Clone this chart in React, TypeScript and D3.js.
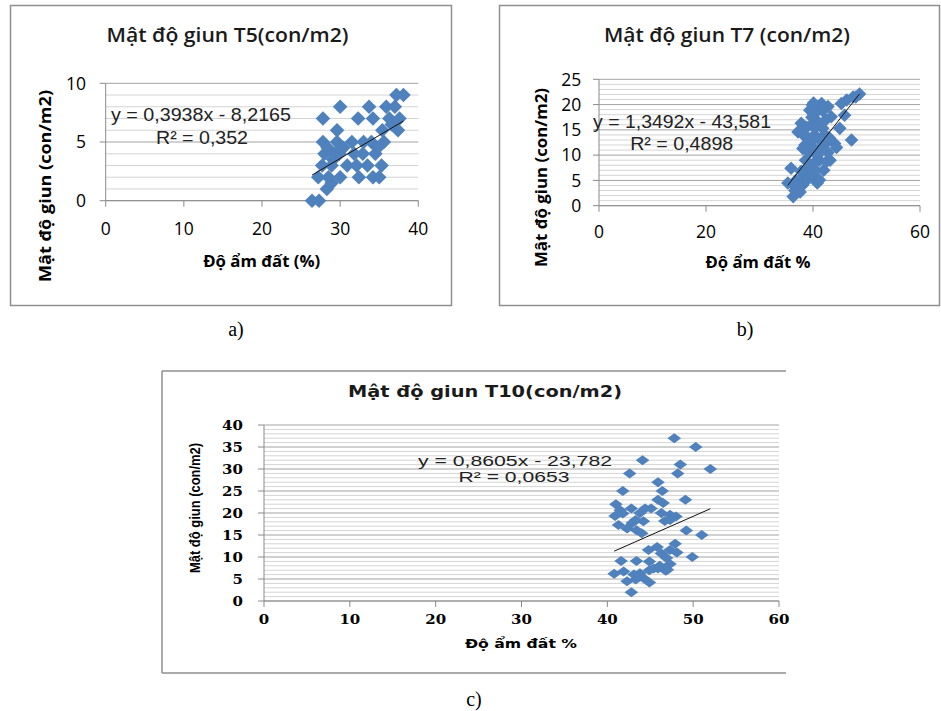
import React from 'react';
import * as d3 from 'd3';

// ---------- DATA ----------
// Panel a: T5
const t5Moisture = [26.4, 27.3, 28.3, 27.2, 28.5, 30.0, 32.4, 34.2, 35.0, 27.7, 28.9, 30.9, 32.1, 33.5, 35.3, 28.0, 29.3, 29.9, 32.9, 34.5, 27.8, 29.6, 31.5, 33.0, 34.0, 35.6, 29.6, 35.4, 37.4, 27.8, 32.3, 34.2, 36.3, 37.6, 30.0, 33.7, 35.9, 37.0, 37.2, 38.1, 28.9, 29.1, 28.4, 30.4, 31.8, 34.8, 36.6];
const t5Density = [0, 0, 1, 2, 2, 2, 2, 2, 2, 3, 3, 3, 3, 3, 3, 4, 4, 4, 4, 4, 5, 5, 5, 5, 5, 5, 6, 6, 6, 7, 7, 7, 7, 7, 8, 8, 8, 8, 9, 9, 1.5, 3.5, 4.5, 4.5, 4, 4.5, 6.5];
const t5Fit = { slope: 0.3938, intercept: -8.2165 };
const t5Eq = ['y = 0,3938x - 8,2165', 'R² = 0,352'];
const t5XTicks = [0, 10, 20, 30, 40];
const t5YTicks = [0, 5, 10];

// Panel b: T7
const t7Moisture = [35.3, 35.9, 36.3, 36.6, 36.8, 37.3, 37.6, 38.0, 38.3, 37.2, 37.8, 38.1, 38.4, 38.6, 38.8, 39.1, 39.3, 39.4, 39.6, 39.7, 39.9, 40.0, 40.2, 40.3, 40.5, 40.7, 40.8, 41.0, 41.2, 41.2, 41.3, 41.6, 41.8, 42.0, 42.4, 42.5, 42.4, 42.8, 43.2, 43.4, 44.05, 44.4, 45.0, 45.3, 45.9, 46.3, 47.2, 47.5, 48.0, 48.7, 38.5, 39.0, 39.8, 40.5, 41.5, 40.8, 39.5, 40.5, 41.8, 42.2, 43.0, 38.8, 37.8, 36.5, 40.1, 42.8];
const t7Density = [4.5, 7.4, 1.8, 3, 5, 3.6, 2.7, 4, 6, 14.6, 16.3, 11.3, 13.8, 9, 15.5, 7.5, 10.5, 18.9, 12.5, 16, 19.9, 6, 8.5, 14, 11, 18.6, 4.5, 16.5, 5.1, 9, 13, 20.2, 15.3, 7, 12.3, 8.7, 17, 19.6, 9, 17.6, 12.3, 11.5, 15.3, 20.2, 17.9, 20.9, 13, 21.5, 21.5, 22.1, 12, 13.5, 17.5, 15.5, 11.5, 10, 8, 7, 18.8, 14, 13.5, 5, 6.8, 4, 20.3, 10.5];
const t7Fit = { slope: 1.3492, intercept: -43.581 };
const t7Eq = ['y = 1,3492x - 43,581', 'R² = 0,4898'];
const t7XTicks = [0, 20, 40, 60];
const t7YTicks = [0, 5, 10, 15, 20, 25];

// Panel c: T10
const t10Moisture = [47.8, 50.3, 44.1, 48.5, 52.0, 42.6, 48.2, 45.9, 41.8, 46.4, 49.1, 45.9, 46.5, 41.0, 45.1, 41.5, 42.8, 43.8, 44.4, 46.3, 47.3, 48.0, 46.7, 47.3, 40.9, 41.8, 41.3, 42.9, 42.3, 43.4, 44.0, 44.2, 43.3, 49.2, 51.0, 47.9, 44.8, 45.8, 46.3, 47.3, 48.1, 46.9, 49.9, 41.6, 43.4, 44.9, 46.1, 47.3, 40.8, 41.9, 43.1, 43.8, 44.9, 45.9, 46.8, 45.4, 47.0, 42.3, 43.3, 44.2, 44.9, 43.8, 42.8];
const t10Density = [37, 35, 32, 31, 30, 29, 29, 27, 25, 25, 23, 23, 22.3, 22, 21, 20.6, 21, 20, 21, 20, 19.6, 19.2, 18.2, 18.4, 19.3, 19.9, 17.3, 17.7, 16.5, 16.1, 15.4, 18.1, 18.4, 16, 15, 13, 11.6, 12.3, 10.8, 11.6, 11, 9.8, 10, 9.1, 9.1, 9, 8, 8.4, 6.2, 6.7, 6, 6.3, 7, 7.4, 6.9, 7.4, 7.1, 4.5, 4.9, 5.2, 4.2, 5.5, 2];
const t10Fit = { slope: 0.8605, intercept: -23.782 };
const t10Eq = ['y = 0,8605x - 23,782', 'R² = 0,0653'];
const t10XTicks = [0, 10, 20, 30, 40, 50, 60];
const t10YTicks = [0, 5, 10, 15, 20, 25, 30, 35, 40];

const titles = ['Mật độ giun T5(con/m2)', 'Mật độ giun T7 (con/m2)', 'Mật độ giun T10(con/m2)'];
const yTitles = ['Mật độ giun (con/m2)', 'Mật độ giun (con/m2)', 'Mật độ giun (con/m2)'];
const xTitles = ['Độ ẩm đất (%)', 'Độ ẩm đất %', 'Độ ẩm đất %'];
const captions = ['a)', 'b)', 'c)'];

// ---------- STYLE ----------
const BLUE = '#4F81BD';
const FRAME = '#8f8f8f';
const MAJOR = '#a3a3a3';
const MINOR = '#d4d4d4';
const AXIS = '#8a8a8a';

type TxtProps = {
  x: number; y: number; text: string; size: number; family: string;
  weight?: string | number; anchor?: string; sx?: number; rot?: number;
  len?: number; fill?: string;
};

function Txt({ x, y, text, size, family, weight = 400, anchor = 'middle', sx = 1, rot = 0, len, fill = '#000' }: TxtProps) {
  const tr = rot !== 0
    ? `translate(${x},${y}) rotate(${rot}) scale(1,${sx})`
    : `translate(${x},${y}) scale(${sx},1)`;
  const extra: any = {};
  if (len) { extra.textLength = len; extra.lengthAdjust = 'spacingAndGlyphs'; }
  return (
    <text transform={tr} fontSize={size} fontFamily={family} fontWeight={weight} textAnchor={anchor} fill={fill} {...extra}>
      {text}
    </text>
  );
}

type PanelProps = {
  xs: number[]; ys: number[];
  xDomain: [number, number]; yDomain: [number, number];
  xRange: [number, number]; yRange: [number, number];
  xTicks: number[]; yTicks: number[];
  fit: { slope: number; intercept: number };
  dw: number; dh: number;
  clipRight?: number;
};

function Plot({ xs, ys, xDomain, yDomain, xRange, yRange, xTicks, yTicks, fit, dw, dh, clipRight }: PanelProps) {
  const x = d3.scaleLinear().domain(xDomain).range(xRange);
  const y = d3.scaleLinear().domain(yDomain).range(yRange);
  const minor = d3.range(yDomain[0], yDomain[1] + 0.001, 1);
  const xMin = d3.min(xs) as number;
  const xMax = d3.max(xs) as number;
  const line = d3.line<number>().x(d => x(d)).y(d => y(fit.slope * d + fit.intercept));
  const diamond = `M0,${-dh}L${dw},0L0,${dh}L${-dw},0Z`;
  const id = `clip${Math.round(xRange[0])}`;
  const right = clipRight ?? 2000;
  return (
    <g>
      <defs>
        <clipPath id={id}><rect x={0} y={0} width={right} height={2000} /></clipPath>
      </defs>
      <g clipPath={`url(#${id})`}>
        {minor.map(v => (
          <line key={'m' + v} x1={xRange[0]} x2={xRange[1]} y1={y(v)} y2={y(v)}
            stroke={v % 5 === 0 ? MAJOR : MINOR} strokeWidth={1} />
        ))}
        <line x1={xRange[0]} x2={xRange[0]} y1={yRange[0]} y2={yRange[1]} stroke={AXIS} />
        <line x1={xRange[0]} x2={xRange[1]} y1={yRange[0]} y2={yRange[0]} stroke={AXIS} />
        {yTicks.map(v => (
          <line key={'yt' + v} x1={xRange[0] - 6} x2={xRange[0]} y1={y(v)} y2={y(v)} stroke={AXIS} />
        ))}
        {xTicks.map(v => (
          <line key={'xt' + v} x1={x(v)} x2={x(v)} y1={yRange[0]} y2={yRange[0] + 6} stroke={AXIS} />
        ))}
        {xs.map((d, i) => (
          <path key={'p' + i} d={diamond} transform={`translate(${x(d)},${y(ys[i])})`} fill={BLUE} />
        ))}
        <path d={line([xMin, xMax]) as string} stroke="#111" strokeWidth={1} fill="none" />
      </g>
    </g>
  );
}

export default function App() {
  const ax = d3.scaleLinear().domain([0, 40]).range([105.7, 418.3]);
  const ay = d3.scaleLinear().domain([0, 10]).range([200.7, 83.3]);
  const bx = d3.scaleLinear().domain([0, 60]).range([599, 920]);
  const by = d3.scaleLinear().domain([0, 25]).range([205.7, 79.3]);
  const cx = d3.scaleLinear().domain([0, 60]).range([264, 779]);
  const cy = d3.scaleLinear().domain([0, 40]).range([601, 425]);

  const sans = "'Open Sans', 'DejaVu Sans', sans-serif";
  const arial = "'Liberation Sans', Arial, sans-serif";
  const verd = "'DejaVu Sans', sans-serif";
  const serifB = "'DejaVu Serif', serif";
  const doc = "'Liberation Serif', 'DejaVu Serif', serif";
  const cRight = 786;

  return (
    <svg width={941} height={711} style={{ position: 'absolute', left: 0, top: 0, background: '#fff' }}>
      <rect x={0} y={0} width={941} height={711} fill="#fff" />

      {/* ---------- Panel a ---------- */}
      <rect x={10.5} y={5.5} width={441} height={300} fill="none" stroke={FRAME} strokeWidth={1.5} />
      <Plot xs={t5Moisture} ys={t5Density} xDomain={[0, 40]} yDomain={[0, 10]}
        xRange={[105.7, 418.3]} yRange={[200.7, 83.3]} xTicks={t5XTicks} yTicks={t5YTicks}
        fit={t5Fit} dw={7.3} dh={7.3} />
      <Txt x={227.5} y={42} text={titles[0]} size={19} family={sans} weight={600} len={242} fill="#1a1a1a" />
      <Txt x={51} y={186} rot={-90} text={yTitles[0]} size={16} family={sans} weight={700} len={192} />
      <Txt x={261.7} y={266.5} text={xTitles[0]} size={16} family={sans} weight={700} len={117} />
      {t5YTicks.map(v => <Txt key={'ay' + v} x={86} y={ay(v) + 6.3} text={String(v)} size={17.5} family={sans} anchor="end" />)}
      {t5XTicks.map(v => <Txt key={'ax' + v} x={ax(v)} y={234.5} text={String(v)} size={17.5} family={sans} />)}
      <Txt x={201} y={120.7} text={t5Eq[0]} size={19} family={arial} len={180} fill="#222" />
      <Txt x={202} y={144.3} text={t5Eq[1]} size={19} family={arial} len={92} fill="#222" />
      <Txt x={236} y={336} text={captions[0]} size={20} family={doc} />

      {/* ---------- Panel b ---------- */}
      <rect x={499.5} y={5.5} width={440} height={300} fill="none" stroke={FRAME} strokeWidth={1.5} />
      <Plot xs={t7Moisture} ys={t7Density} xDomain={[0, 60]} yDomain={[0, 25]}
        xRange={[599, 920]} yRange={[205.7, 79.3]} xTicks={t7XTicks} yTicks={t7YTicks}
        fit={t7Fit} dw={6.8} dh={6.8} />
      <Txt x={727} y={41.7} text={titles[1]} size={19} family={sans} weight={600} len={246} fill="#1a1a1a" />
      <Txt x={547} y={177.5} rot={-90} text={yTitles[1]} size={15.5} family={sans} weight={700} len={179} />
      <Txt x={758} y={268} text={xTitles[1]} size={16} family={sans} weight={700} len={105} />
      {t7YTicks.map(v => <Txt key={'by' + v} x={581.3} y={by(v) + 6.3} text={String(v)} size={17.5} family={sans} anchor="end" />)}
      {t7XTicks.map(v => <Txt key={'bx' + v} x={bx(v)} y={238} text={String(v)} size={17.5} family={sans} />)}
      <Txt x={682} y={128.3} text={t7Eq[0]} size={19} family={arial} len={178} fill="#222" />
      <Txt x={681.7} y={150} text={t7Eq[1]} size={19} family={arial} len={103} fill="#222" />
      <Txt x={745} y={336} text={captions[1]} size={20} family={doc} />

      {/* ---------- Panel c ---------- */}
      <line x1={162} x2={cRight} y1={371} y2={371} stroke={FRAME} strokeWidth={1.5} />
      <line x1={162} x2={cRight} y1={673} y2={673} stroke={FRAME} strokeWidth={1.5} />
      <line x1={162} x2={162} y1={371} y2={673} stroke={FRAME} strokeWidth={1.5} />
      <Plot xs={t10Moisture} ys={t10Density} xDomain={[0, 60]} yDomain={[0, 40]}
        xRange={[264, 779]} yRange={[601, 425]} xTicks={t10XTicks} yTicks={t10YTicks}
        fit={t10Fit} dw={6.8} dh={5} clipRight={cRight} />
      <Txt x={485} y={397} text={titles[2]} size={15} family={verd} weight={700} len={274} fill="#1a1a1a" />
      <Txt x={200} y={508} rot={-90} text={yTitles[2]} size={13} family={arial} weight={700} sx={1.1} len={130} />
      <Txt x={521} y={647.7} text={xTitles[2]} size={12} family={verd} weight={700} len={112} />
      {t10YTicks.map(v => <Txt key={'cy' + v} x={243} y={cy(v) + 4.5} text={String(v)} size={12} family={serifB} weight={700} anchor="end" sx={1.25} />)}
      {t10XTicks.map(v => <Txt key={'cx' + v} x={cx(v)} y={624} text={String(v)} size={12} family={serifB} weight={700} sx={1.25} />)}
      <Txt x={515} y={466} text={t10Eq[0]} size={15} family={arial} len={194} fill="#222" />
      <Txt x={514} y={482.3} text={t10Eq[1]} size={15} family={arial} len={111} fill="#222" />
      <Txt x={474} y={706} text={captions[2]} size={20} family={doc} />
    </svg>
  );
}
